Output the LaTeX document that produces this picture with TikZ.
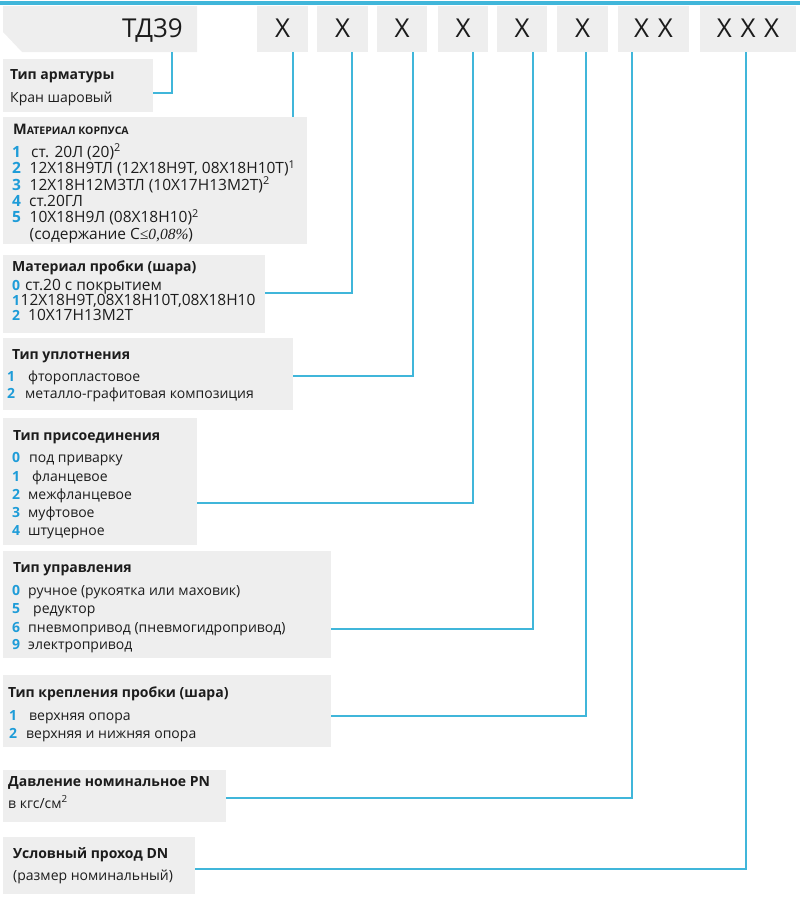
\documentclass[tikz,border=0pt]{standalone}
\usepackage{fontspec}
\setmainfont{Open Sans}
\newfontfamily\tnr{Liberation Serif}
\definecolor{boxgray}{HTML}{EEEEEE}
\definecolor{lineblue}{HTML}{40B6DA}
\definecolor{numblue}{HTML}{1E9CD8}
\definecolor{txtcol}{HTML}{1C1C1C}
\tikzset{
  graybox/.style={fill=boxgray, draw=none, inner sep=0pt, outer sep=0pt, anchor=north west},
  hbox/.style={graybox, minimum height=46pt},
  conn/.style={draw=lineblue, line width=2.5pt},
  ttl/.style={anchor=base west, inner sep=0pt, font=\fontsize{14}{14}\selectfont\bfseries, text=txtcol},
  itm/.style={anchor=base west, inner sep=0pt, font=\fontsize{14}{14}\selectfont, text=txtcol},
  bigitm/.style={anchor=base west, inner sep=0pt, font=\fontsize{15.5}{15.5}\selectfont, text=txtcol},
  num/.style={anchor=base west, inner sep=0pt, font=\fontsize{14}{14}\selectfont\bfseries, text=numblue},
  bignum/.style={anchor=base west, inner sep=0pt, font=\fontsize{15.5}{15.5}\selectfont\bfseries, text=numblue},
  hdr/.style={anchor=base, inner sep=0pt, font=\fontsize{26}{26}\selectfont, text=txtcol},
}
\newcommand{\xg}{\hspace{0.33em}}
\begin{document}
\begin{tikzpicture}[x=1pt,y=-1pt]
\useasboundingbox (0,0) rectangle (800,897);
% top line
\draw[draw=lineblue, line width=4pt] (0,2.5) -- (800,2.5);
% header
\fill[boxgray] (3,6) -- (197,6) -- (197,52) -- (22,52) -- (3,32) -- cycle;
\node[anchor=north west, inner sep=0pt, minimum width=194pt, minimum height=46pt] (h0) at (3,6) {};
\node[hdr, anchor=base east] (h0t) at (183,37) {ТД39};
\node[hbox, minimum width=51pt] (h1) at (257,6) {};
\node[hbox, minimum width=51pt] (h2) at (317,6) {};
\node[hbox, minimum width=50pt] (h3) at (377,6) {};
\node[hbox, minimum width=50pt] (h4) at (438,6) {};
\node[hbox, minimum width=50pt] (h5) at (497,6) {};
\node[hbox, minimum width=51pt] (h6) at (557,6) {};
\node[hbox, minimum width=71pt] (h7) at (618,6) {};
\node[hbox, minimum width=96pt] (h8) at (700,6) {};
\node[hdr] (h1t) at (282.5,37) {X};
\node[hdr] (h2t) at (342.5,37) {X};
\node[hdr] (h3t) at (402,37) {X};
\node[hdr] (h4t) at (463,37) {X};
\node[hdr] (h5t) at (522,37) {X};
\node[hdr] (h6t) at (582.5,37) {X};
\node[hdr] (h7t) at (653.5,37) {X\xg X};
\node[hdr] (h8t) at (748,37) {X\xg X\xg X};

% boxes
\node[graybox, minimum width=150pt, minimum height=53pt] (b1) at (3,59) {};
\node[graybox, minimum width=304pt, minimum height=127pt] (b2) at (3,117) {};
\node[graybox, minimum width=262pt, minimum height=78pt] (b3) at (3,255) {};
\node[graybox, minimum width=290pt, minimum height=72pt] (b4) at (3,338) {};
\node[graybox, minimum width=194pt, minimum height=127pt] (b5) at (3,418) {};
\node[graybox, minimum width=328pt, minimum height=107pt] (b6) at (3,551) {};
\node[graybox, minimum width=328pt, minimum height=72pt] (b7) at (3,675) {};
\node[graybox, minimum width=223pt, minimum height=52pt] (b8) at (3,770) {};
\node[graybox, minimum width=192pt, minimum height=57pt] (b9) at (3,837) {};

% Тип арматуры
\node[ttl] (t1) at (10,79) {Тип арматуры};
\node[itm] (t1a) at (10,102) {Кран шаровый};

% Материал корпуса
\node[ttl] (t2) at (13,134) {{\fontsize{14.5}{14}\selectfont М}{\fontsize{10.5}{10}\selectfont АТЕРИАЛ КОРПУСА}};
\node[bignum] (n2a) at (12,157) {1};
\node[bigitm] (t2a) at (31,157) {ст. 20Л (20)\textsuperscript{2}};
\node[bignum] (n2b) at (12,173.5) {2};
\node[bigitm] (t2b) at (29.5,173.5) {12Х18Н9ТЛ (12Х18Н9Т, 08Х18Н10Т)\textsuperscript{1}};
\node[bignum] (n2c) at (12,190) {3};
\node[bigitm] (t2c) at (29.5,190) {12Х18Н12М3ТЛ (10Х17Н13М2Т)\textsuperscript{2}};
\node[bignum] (n2d) at (12,206) {4};
\node[bigitm] (t2d) at (29,206) {ст.20ГЛ};
\node[bignum] (n2e) at (12,222.5) {5};
\node[bigitm] (t2e) at (29.5,222.5) {10Х18Н9Л (08Х18Н10)\textsuperscript{2}};
\node[bigitm] (t2f) at (29.5,239) {(содержание C{\tnr\itshape ≤0,08\%})};

% Материал пробки
\node[ttl] (t3) at (12,271) {Материал пробки (шара)};
\node[num] (n3a) at (12,290) {0};
\node[bigitm] (t3a) at (25,290) {ст.20 с покрытием};
\node[num] (n3b) at (12,305) {1};
\node[bigitm] (t3b) at (20.5,305) {12Х18Н9Т,08Х18Н10Т,08Х18Н10};
\node[num] (n3c) at (12,320) {2};
\node[bigitm] (t3c) at (28,320) {10Х17Н13М2Т};

% Тип уплотнения
\node[ttl] (t4) at (12,359) {Тип уплотнения};
\node[num] (n4a) at (7,381) {1};
\node[itm] (t4a) at (28,381) {фторопластовое};
\node[num] (n4b) at (7,398) {2};
\node[itm] (t4b) at (25,398) {металло-графитовая композиция};

% Тип присоединения
\node[ttl] (t5) at (13,440) {Тип присоединения};
\node[num] (n5a) at (12,462) {0};
\node[itm] (t5a) at (29,462) {под приварку};
\node[num] (n5b) at (12,481) {1};
\node[itm] (t5b) at (32,481) {фланцевое};
\node[num] (n5c) at (12,499) {2};
\node[itm] (t5c) at (28,499) {межфланцевое};
\node[num] (n5d) at (12,517) {3};
\node[itm] (t5d) at (28,517) {муфтовое};
\node[num] (n5e) at (12,535) {4};
\node[itm] (t5e) at (28,535) {штуцерное};

% Тип управления
\node[ttl] (t6) at (13,572) {Тип управления};
\node[num] (n6a) at (12,595) {0};
\node[itm] (t6a) at (28,595) {ручное (рукоятка или маховик)};
\node[num] (n6b) at (12,613) {5};
\node[itm] (t6b) at (33,613) {редуктор};
\node[num] (n6c) at (12,632) {6};
\node[itm] (t6c) at (28,632) {пневмопривод (пневмогидропривод)};
\node[num] (n6d) at (12,649) {9};
\node[itm] (t6d) at (28,649) {электропривод};

% Тип крепления
\node[ttl] (t7) at (8,697) {Тип крепления пробки (шара)};
\node[num] (n7a) at (9,720) {1};
\node[itm] (t7a) at (29,720) {верхняя опора};
\node[num] (n7b) at (9,738) {2};
\node[itm] (t7b) at (26,738) {верхняя и нижняя опора};

% Давление
\node[ttl] (t8) at (8,786) {Давление номинальное PN};
\node[itm] (t8a) at (8,808) {в кгс/см\textsuperscript{2}};

% Условный проход
\node[ttl] (t9) at (13,858) {Условный проход DN};
\node[itm] (t9a) at (13,880) {(размер номинальный)};

% connectors
\draw[conn] (h0.south -| 172,0) |- (b1.east |- 0,93);
\draw[conn] (h1.south -| 293,0) -- (b2.north -| 293,0);
\draw[conn] (h2.south -| 352,0) |- (b3.east |- 0,293);
\draw[conn] (h3.south -| 413,0) |- (b4.east |- 0,376);
\draw[conn] (h4.south -| 473,0) |- (b5.east |- 0,503);
\draw[conn] (h5.south -| 533,0) |- (b6.east |- 0,629);
\draw[conn] (h6.south -| 586,0) |- (b7.east |- 0,716);
\draw[conn] (h7.south -| 632,0) |- (b8.east |- 0,798);
\draw[conn] (h8.south -| 746,0) |- (b9.east |- 0,869);
\end{tikzpicture}
\end{document}
